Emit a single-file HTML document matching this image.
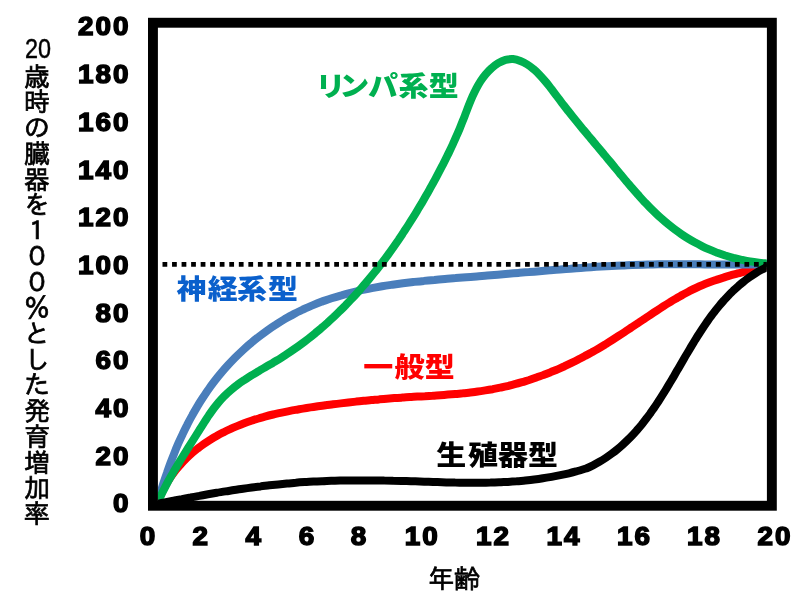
<!DOCTYPE html>
<html lang="ja"><head><meta charset="utf-8"><title>スキャモンの発育曲線</title>
<style>
html,body{margin:0;padding:0;background:#fff;}
body{width:800px;height:600px;overflow:hidden;}
svg{display:block;}
.tick{font-family:"Liberation Sans",sans-serif;font-weight:700;font-size:26px;fill:#000;stroke:#000;stroke-width:1.5px;stroke-linejoin:miter;letter-spacing:1.9px;}
.lab{font-family:"Liberation Sans","Noto Sans CJK JP",sans-serif;font-weight:900;}
.goth{font-family:"Liberation Sans","IPAGothic","Noto Sans CJK JP",sans-serif;fill:#000;stroke:#000;stroke-width:0.7px;}
.num{font-family:"Liberation Sans",sans-serif;fill:#000;stroke:#000;stroke-width:0.5px;}
</style></head><body>
<svg width="800" height="600" viewBox="0 0 800 600">
<rect x="0" y="0" width="800" height="600" fill="#fff"/>
<defs><clipPath id="plot"><rect x="157.8" y="27.7" width="609" height="473.4"/></clipPath></defs>
<g clip-path="url(#plot)" fill="none" stroke-linecap="butt" stroke-linejoin="round" stroke-width="8">
<path d="M157.5 503.0C158.0 501.8 159.3 498.1 160.4 495.7C161.4 493.3 162.5 491.0 163.7 488.7C164.9 486.5 166.1 484.2 167.4 482.1C168.8 479.9 170.1 477.8 171.6 475.7C173.1 473.6 174.6 471.6 176.1 469.6C177.7 467.7 179.4 465.7 181.1 463.9C182.7 462.0 184.5 460.2 186.3 458.4C188.1 456.7 189.9 455.0 191.8 453.3C193.7 451.7 195.7 450.1 197.7 448.5C199.7 447.0 201.7 445.5 203.8 444.0C205.8 442.6 207.9 441.2 210.1 439.8C212.2 438.5 214.4 437.2 216.6 436.0C218.8 434.7 221.0 433.5 223.3 432.4C225.5 431.2 227.8 430.1 230.1 429.1C232.4 428.0 234.8 427.0 237.1 426.1C239.5 425.1 241.8 424.2 244.2 423.3C246.6 422.4 248.9 421.6 251.3 420.8C253.7 420.0 256.1 419.2 258.6 418.5C261.0 417.7 263.4 417.1 265.8 416.4C268.3 415.7 270.7 415.1 273.1 414.5C275.6 413.9 278.0 413.4 280.5 412.8C283.0 412.3 285.4 411.8 287.9 411.3C290.4 410.8 292.9 410.3 295.4 409.9C297.9 409.5 300.4 409.0 302.9 408.6C305.4 408.2 307.9 407.8 310.4 407.4C312.9 407.1 315.4 406.7 317.9 406.3C320.5 406.0 323.0 405.7 325.5 405.3C328.1 405.0 330.6 404.6 333.1 404.3C335.7 404.0 338.2 403.7 340.8 403.4C343.3 403.1 345.8 402.8 348.4 402.5C350.9 402.2 353.5 401.9 356.1 401.6C358.6 401.4 361.2 401.1 363.7 400.8C366.3 400.6 368.8 400.3 371.4 400.1C373.9 399.9 376.5 399.6 379.1 399.4C381.6 399.2 384.2 399.0 386.7 398.7C389.3 398.5 391.9 398.3 394.4 398.1C397.0 398.0 399.5 397.8 402.1 397.6C404.6 397.4 407.2 397.3 409.7 397.1C412.3 396.9 414.8 396.8 417.4 396.6C419.9 396.5 422.5 396.3 425.0 396.2C427.5 396.0 430.1 395.8 432.6 395.7C435.1 395.5 437.7 395.4 440.2 395.2C442.7 395.0 445.3 394.8 447.8 394.6C450.3 394.4 452.8 394.2 455.3 394.0C457.8 393.8 460.4 393.5 462.9 393.3C465.4 393.0 467.9 392.8 470.4 392.5C472.9 392.2 475.4 391.9 477.8 391.5C480.3 391.2 482.8 390.8 485.3 390.4C487.8 390.0 490.2 389.6 492.7 389.2C495.2 388.7 497.6 388.2 500.1 387.7C502.5 387.2 505.0 386.7 507.4 386.1C509.8 385.5 512.3 384.9 514.7 384.2C517.1 383.6 519.6 382.9 522.0 382.2C524.4 381.5 526.8 380.7 529.2 380.0C531.6 379.2 534.0 378.4 536.4 377.5C538.7 376.7 541.1 375.8 543.5 375.0C545.8 374.1 548.2 373.1 550.6 372.2C552.9 371.2 555.3 370.3 557.6 369.3C559.9 368.3 562.2 367.2 564.6 366.2C566.9 365.1 569.2 364.0 571.5 362.9C573.8 361.8 576.1 360.7 578.3 359.5C580.6 358.3 582.9 357.2 585.1 355.9C587.4 354.7 589.6 353.5 591.9 352.3C594.1 351.0 596.3 349.7 598.6 348.4C600.8 347.1 603.0 345.8 605.2 344.5C607.4 343.1 609.6 341.8 611.7 340.4C613.9 339.0 616.1 337.6 618.2 336.2C620.4 334.8 622.6 333.4 624.7 332.0C626.9 330.6 629.0 329.1 631.1 327.7C633.3 326.3 635.4 324.8 637.6 323.4C639.7 322.0 641.8 320.5 644.0 319.1C646.1 317.7 648.2 316.2 650.4 314.8C652.5 313.4 654.7 312.0 656.8 310.6C658.9 309.2 661.1 307.8 663.2 306.4C665.4 305.0 667.5 303.7 669.7 302.4C671.8 301.0 674.0 299.7 676.2 298.5C678.3 297.2 680.5 296.0 682.7 294.7C684.9 293.5 687.1 292.4 689.3 291.2C691.5 290.1 693.7 289.0 695.9 288.0C698.2 286.9 700.4 285.9 702.7 285.0C704.9 284.1 707.2 283.2 709.5 282.3C711.8 281.4 714.1 280.6 716.4 279.9C718.7 279.1 721.0 278.3 723.4 277.6C725.7 276.8 728.1 276.1 730.5 275.4C732.9 274.7 735.3 274.1 737.7 273.4C740.1 272.7 742.6 272.1 745.1 271.4C747.5 270.7 750.0 270.0 752.6 269.3C755.1 268.6 757.6 268.0 760.2 267.2C762.8 266.5 766.7 265.4 768.0 265.0" stroke="#FF0000"/>
<path d="M157.5 503.0C158.0 501.3 159.4 496.3 160.4 493.0C161.4 489.6 162.5 486.3 163.5 483.0C164.6 479.6 165.7 476.3 166.9 473.0C168.0 469.7 169.2 466.4 170.4 463.1C171.6 459.9 172.9 456.6 174.2 453.4C175.5 450.1 176.8 446.9 178.2 443.7C179.6 440.5 181.1 437.3 182.6 434.2C184.0 431.0 185.6 427.9 187.2 424.8C188.7 421.7 190.4 418.6 192.1 415.6C193.7 412.6 195.5 409.6 197.3 406.6C199.0 403.6 200.9 400.7 202.8 397.8C204.7 394.9 206.6 392.0 208.6 389.2C210.6 386.3 212.7 383.5 214.8 380.8C217.0 378.0 219.2 375.3 221.4 372.7C223.6 370.0 225.9 367.4 228.3 364.8C230.6 362.3 233.1 359.8 235.5 357.3C238.0 354.8 240.5 352.4 243.0 350.1C245.6 347.7 248.2 345.4 250.9 343.2C253.5 340.9 256.2 338.7 259.0 336.6C261.7 334.5 264.5 332.4 267.3 330.4C270.1 328.4 273.0 326.4 275.9 324.6C278.8 322.7 281.7 320.9 284.7 319.1C287.7 317.4 290.7 315.7 293.7 314.1C296.8 312.5 299.9 311.0 303.0 309.5C306.1 308.1 309.2 306.7 312.4 305.4C315.5 304.1 318.7 302.8 321.9 301.6C325.1 300.5 328.4 299.3 331.6 298.3C334.9 297.2 338.2 296.2 341.5 295.3C344.8 294.3 348.1 293.4 351.5 292.6C354.8 291.8 358.2 291.0 361.6 290.2C364.9 289.5 368.4 288.8 371.8 288.1C375.2 287.5 378.6 286.9 382.1 286.3C385.5 285.7 389.0 285.2 392.4 284.7C395.9 284.2 399.4 283.7 402.9 283.2C406.3 282.8 409.8 282.4 413.3 282.0C416.9 281.6 420.4 281.2 423.9 280.9C427.4 280.5 430.9 280.2 434.4 279.9C438.0 279.5 441.5 279.2 445.0 278.9C448.5 278.6 452.1 278.4 455.6 278.1C459.1 277.8 462.6 277.5 466.2 277.2C469.7 277.0 473.2 276.7 476.7 276.4C480.2 276.1 483.7 275.9 487.2 275.6C490.7 275.3 494.2 275.0 497.7 274.7C501.2 274.4 504.7 274.1 508.2 273.8C511.7 273.5 515.1 273.2 518.6 272.9C522.1 272.6 525.5 272.3 529.0 272.1C532.5 271.8 535.9 271.5 539.4 271.2C542.8 270.9 546.3 270.6 549.7 270.3C553.2 270.0 556.6 269.7 560.1 269.5C563.5 269.2 567.0 268.9 570.4 268.7C573.8 268.4 577.3 268.1 580.7 267.9C584.1 267.7 587.6 267.4 591.0 267.2C594.4 267.0 597.9 266.7 601.3 266.5C604.7 266.3 608.2 266.1 611.6 265.9C615.0 265.8 618.5 265.6 621.9 265.4C625.4 265.3 628.8 265.1 632.2 265.0C635.7 264.9 639.1 264.8 642.5 264.7C646.0 264.6 649.4 264.5 652.9 264.4C656.3 264.4 659.8 264.3 663.2 264.3C666.7 264.3 670.1 264.3 673.6 264.2C677.0 264.2 680.5 264.2 683.9 264.3C687.4 264.3 690.9 264.3 694.3 264.3C697.8 264.3 701.3 264.4 704.8 264.4C708.2 264.4 711.7 264.5 715.2 264.5C718.7 264.5 722.2 264.5 725.7 264.6C729.2 264.6 732.7 264.6 736.2 264.6C739.7 264.6 743.2 264.6 746.8 264.6C750.3 264.6 753.8 264.6 757.4 264.6C760.9 264.5 766.2 264.4 768.0 264.4" stroke="#4A7EBB"/>
<path d="M157.5 503.0C158.1 501.7 159.9 497.8 161.1 495.3C162.3 492.7 163.6 490.2 164.9 487.7C166.2 485.2 167.5 482.7 168.8 480.2C170.2 477.8 171.6 475.3 173.0 472.9C174.3 470.5 175.8 468.1 177.2 465.7C178.6 463.3 180.1 460.9 181.5 458.5C183.0 456.1 184.5 453.7 186.0 451.3C187.5 448.9 189.0 446.6 190.5 444.2C192.0 441.8 193.5 439.4 195.0 437.0C196.5 434.6 198.0 432.2 199.5 429.8C201.1 427.4 202.6 425.0 204.1 422.6C205.7 420.2 207.2 417.8 208.8 415.4C210.4 413.1 212.0 410.8 213.7 408.5C215.4 406.3 217.2 404.1 219.0 401.9C220.8 399.8 222.7 397.8 224.6 395.8C226.6 393.8 228.6 392.0 230.7 390.2C232.8 388.4 235.0 386.6 237.2 385.0C239.4 383.3 241.7 381.7 244.1 380.2C246.4 378.6 248.8 377.1 251.1 375.6C253.5 374.1 256.0 372.7 258.4 371.3C260.8 369.8 263.3 368.4 265.7 367.0C268.2 365.5 270.7 364.1 273.1 362.7C275.5 361.2 278.0 359.8 280.4 358.3C282.8 356.8 285.2 355.2 287.5 353.7C289.9 352.1 292.2 350.5 294.5 348.9C296.9 347.3 299.2 345.7 301.4 344.0C303.7 342.3 305.9 340.6 308.2 338.9C310.4 337.2 312.6 335.4 314.8 333.6C316.9 331.8 319.1 330.0 321.2 328.2C323.4 326.4 325.5 324.5 327.6 322.6C329.6 320.7 331.7 318.8 333.8 316.9C335.8 315.0 337.8 313.0 339.8 311.0C341.9 309.1 343.8 307.1 345.8 305.1C347.8 303.0 349.7 301.0 351.6 298.9C353.6 296.9 355.5 294.8 357.4 292.7C359.2 290.6 361.1 288.5 362.9 286.3C364.8 284.2 366.6 282.1 368.4 279.9C370.2 277.7 372.0 275.5 373.8 273.3C375.6 271.1 377.3 268.9 379.0 266.7C380.8 264.4 382.5 262.2 384.2 259.9C385.9 257.6 387.6 255.4 389.2 253.1C390.9 250.8 392.5 248.5 394.1 246.2C395.8 243.8 397.4 241.5 399.0 239.2C400.5 236.8 402.1 234.5 403.7 232.1C405.2 229.8 406.8 227.4 408.3 225.0C409.8 222.6 411.3 220.3 412.8 217.9C414.3 215.5 415.8 213.1 417.2 210.7C418.7 208.2 420.1 205.8 421.6 203.4C423.0 201.0 424.4 198.5 425.8 196.1C427.2 193.7 428.6 191.2 429.9 188.8C431.3 186.4 432.6 183.9 434.0 181.5C435.3 179.0 436.6 176.6 437.9 174.1C439.2 171.6 440.5 169.2 441.8 166.7C443.1 164.2 444.4 161.8 445.6 159.3C446.8 156.8 448.1 154.3 449.3 151.7C450.5 149.2 451.7 146.7 452.9 144.1C454.0 141.6 455.2 139.0 456.3 136.4C457.5 133.8 458.6 131.2 459.7 128.6C460.8 125.9 461.8 123.3 462.9 120.6C464.0 117.9 465.0 115.2 466.1 112.4C467.1 109.7 468.1 107.0 469.2 104.3C470.3 101.6 471.4 98.9 472.6 96.2C473.8 93.6 475.0 91.0 476.4 88.4C477.7 85.9 479.1 83.4 480.6 81.1C482.2 78.7 483.8 76.4 485.6 74.3C487.4 72.2 489.4 70.1 491.5 68.2C493.6 66.4 495.9 64.6 498.2 63.2C500.6 61.8 503.1 60.6 505.5 59.9C508.0 59.2 510.6 59.0 513.1 59.1C515.6 59.3 518.1 60.1 520.4 61.0C522.8 61.9 525.1 63.1 527.3 64.5C529.6 65.9 531.7 67.6 533.8 69.3C535.9 71.1 537.9 73.1 539.9 75.2C541.9 77.3 543.9 79.6 545.8 81.9C547.7 84.1 549.5 86.5 551.4 88.9C553.2 91.3 555.0 93.8 556.8 96.1C558.6 98.5 560.4 100.9 562.2 103.3C564.0 105.6 565.7 107.9 567.5 110.1C569.3 112.4 571.0 114.6 572.8 116.8C574.6 119.0 576.3 121.1 578.1 123.3C579.8 125.4 581.6 127.6 583.3 129.7C585.1 131.8 586.9 133.9 588.6 136.0C590.4 138.1 592.1 140.2 593.9 142.3C595.7 144.4 597.4 146.5 599.2 148.6C601.0 150.7 602.8 152.8 604.5 155.0C606.3 157.1 608.1 159.3 609.9 161.4C611.7 163.6 613.5 165.8 615.3 168.0C617.2 170.2 619.0 172.4 620.8 174.7C622.7 176.9 624.5 179.1 626.4 181.3C628.3 183.5 630.1 185.7 632.0 187.9C633.9 190.1 635.8 192.3 637.8 194.5C639.7 196.6 641.6 198.8 643.6 200.9C645.6 203.0 647.5 205.1 649.5 207.1C651.5 209.1 653.6 211.1 655.6 213.1C657.6 215.1 659.7 217.0 661.8 218.8C663.9 220.7 666.0 222.5 668.1 224.2C670.3 226.0 672.4 227.7 674.6 229.3C676.8 230.9 679.0 232.5 681.3 234.1C683.5 235.6 685.8 237.1 688.1 238.5C690.4 239.9 692.7 241.3 695.1 242.6C697.5 243.9 699.9 245.1 702.3 246.3C704.7 247.5 707.2 248.6 709.7 249.7C712.2 250.8 714.8 251.8 717.3 252.8C719.9 253.7 722.5 254.6 725.2 255.5C727.8 256.3 730.5 257.1 733.2 257.8C736.0 258.5 738.7 259.2 741.5 259.8C744.4 260.4 747.2 261.0 750.1 261.4C753.0 261.9 755.9 262.3 758.9 262.7C761.9 263.1 766.5 263.4 768.0 263.6" stroke="#00B050"/>
<line x1="162.5" y1="264.35" x2="770" y2="264.35" stroke="#000" stroke-width="4.8" stroke-dasharray="4.77 4.77"/>
<path d="M156.0 504.2C157.4 503.9 161.7 503.0 164.6 502.5C167.5 501.9 170.4 501.3 173.3 500.8C176.2 500.2 179.0 499.6 181.9 499.1C184.8 498.5 187.7 498.0 190.6 497.5C193.5 496.9 196.4 496.4 199.3 495.9C202.2 495.3 205.1 494.8 208.0 494.3C210.9 493.8 213.8 493.3 216.7 492.8C219.7 492.3 222.6 491.9 225.5 491.4C228.4 490.9 231.3 490.5 234.2 490.0C237.2 489.6 240.1 489.1 243.0 488.7C245.9 488.3 248.9 487.9 251.8 487.5C254.7 487.1 257.6 486.7 260.6 486.4C263.5 486.0 266.4 485.7 269.4 485.3C272.3 485.0 275.2 484.7 278.2 484.4C281.1 484.1 284.1 483.8 287.0 483.5C289.9 483.3 292.9 483.0 295.8 482.8C298.8 482.5 301.7 482.3 304.7 482.1C307.6 481.9 310.5 481.8 313.5 481.6C316.4 481.4 319.4 481.3 322.3 481.2C325.3 481.1 328.2 480.9 331.2 480.8C334.1 480.8 337.1 480.7 340.0 480.6C343.0 480.5 345.9 480.5 348.9 480.5C351.9 480.4 354.8 480.4 357.8 480.4C360.7 480.4 363.7 480.4 366.6 480.4C369.6 480.4 372.5 480.4 375.5 480.4C378.4 480.5 381.4 480.5 384.3 480.6C387.3 480.6 390.2 480.7 393.2 480.8C396.2 480.8 399.1 480.9 402.1 481.0C405.0 481.1 408.0 481.1 410.9 481.2C413.9 481.3 416.8 481.4 419.8 481.5C422.7 481.6 425.7 481.7 428.6 481.8C431.6 481.9 434.5 482.0 437.5 482.1C440.4 482.2 443.3 482.3 446.3 482.4C449.2 482.4 452.2 482.5 455.1 482.6C458.1 482.6 461.0 482.7 463.9 482.7C466.9 482.7 469.8 482.8 472.8 482.8C475.7 482.8 478.6 482.8 481.6 482.7C484.5 482.7 487.4 482.6 490.4 482.6C493.3 482.5 496.2 482.4 499.1 482.3C502.1 482.2 505.0 482.0 507.9 481.9C510.8 481.7 513.8 481.5 516.7 481.3C519.6 481.0 522.5 480.8 525.4 480.5C528.4 480.2 531.3 479.9 534.2 479.5C537.1 479.2 540.0 478.8 542.9 478.3C545.8 477.9 548.7 477.4 551.6 476.9C554.5 476.4 557.4 475.8 560.3 475.2C563.2 474.6 566.1 474.0 569.0 473.3C571.9 472.6 574.7 471.8 577.6 471.0C580.5 470.2 584.8 468.9 586.3 468.5L586.2 468.5C587.4 468.0 590.8 466.4 593.0 465.3C595.2 464.2 597.3 463.0 599.4 461.8C601.5 460.6 603.6 459.3 605.6 458.0C607.6 456.7 609.5 455.3 611.4 453.9C613.3 452.5 615.2 451.1 617.0 449.6C618.8 448.1 620.6 446.6 622.4 445.0C624.1 443.5 625.8 441.9 627.5 440.2C629.1 438.6 630.8 436.9 632.4 435.2C634.0 433.5 635.5 431.8 637.1 430.0C638.6 428.3 640.1 426.5 641.6 424.7C643.1 422.8 644.5 421.0 645.9 419.1C647.4 417.3 648.8 415.4 650.2 413.5C651.5 411.5 652.9 409.6 654.2 407.7C655.6 405.7 656.9 403.7 658.2 401.8C659.5 399.8 660.8 397.8 662.0 395.8C663.3 393.7 664.6 391.7 665.8 389.7C667.1 387.6 668.3 385.6 669.5 383.5C670.7 381.5 672.0 379.4 673.2 377.4C674.4 375.3 675.6 373.2 676.8 371.1C678.0 369.1 679.2 367.0 680.4 364.9C681.6 362.9 682.8 360.8 684.0 358.7C685.2 356.6 686.4 354.6 687.7 352.5C688.9 350.5 690.1 348.4 691.3 346.4C692.5 344.3 693.8 342.3 695.0 340.3C696.3 338.2 697.5 336.2 698.8 334.2C700.1 332.2 701.4 330.3 702.7 328.3C704.0 326.3 705.3 324.4 706.6 322.5C708.0 320.5 709.3 318.6 710.7 316.7C712.1 314.9 713.5 313.0 714.9 311.2C716.3 309.3 717.8 307.5 719.3 305.7C720.8 303.9 722.3 302.2 723.8 300.5C725.3 298.7 726.9 297.1 728.5 295.4C730.1 293.7 731.8 292.1 733.4 290.5C735.1 288.9 736.8 287.4 738.5 285.9C740.3 284.4 742.1 282.9 743.9 281.5C745.7 280.0 747.6 278.6 749.5 277.3C751.4 276.0 753.4 274.7 755.4 273.4C757.4 272.1 759.4 270.9 761.5 269.8C763.6 268.6 766.9 267.0 768.0 266.5" stroke="#000"/>
</g>
<rect x="152.95" y="22.75" width="618.9" height="483" fill="none" stroke="#000" stroke-width="9.9"/>
<text class="tick" transform="translate(130.5,35.4) scale(1.07,1)" text-anchor="end">200</text>
<text class="tick" transform="translate(130.5,83.1) scale(1.07,1)" text-anchor="end">180</text>
<text class="tick" transform="translate(130.5,130.8) scale(1.07,1)" text-anchor="end">160</text>
<text class="tick" transform="translate(130.5,178.5) scale(1.07,1)" text-anchor="end">140</text>
<text class="tick" transform="translate(130.5,226.2) scale(1.07,1)" text-anchor="end">120</text>
<text class="tick" transform="translate(130.5,273.9) scale(1.07,1)" text-anchor="end">100</text>
<text class="tick" transform="translate(130.5,321.6) scale(1.07,1)" text-anchor="end">80</text>
<text class="tick" transform="translate(130.5,369.3) scale(1.07,1)" text-anchor="end">60</text>
<text class="tick" transform="translate(130.5,417.0) scale(1.07,1)" text-anchor="end">40</text>
<text class="tick" transform="translate(130.5,464.7) scale(1.07,1)" text-anchor="end">20</text>
<text class="tick" transform="translate(130.5,512.4) scale(1.07,1)" text-anchor="end">0</text>
<text class="tick" transform="translate(148.5,545.0) scale(1.07,1)" text-anchor="middle">0</text>
<text class="tick" transform="translate(201.3,545.0) scale(1.07,1)" text-anchor="middle">2</text>
<text class="tick" transform="translate(254.3,545.0) scale(1.07,1)" text-anchor="middle">4</text>
<text class="tick" transform="translate(307.4,545.0) scale(1.07,1)" text-anchor="middle">6</text>
<text class="tick" transform="translate(359.6,545.0) scale(1.07,1)" text-anchor="middle">8</text>
<text class="tick" transform="translate(422.2,545.0) scale(1.07,1)" text-anchor="middle">10</text>
<text class="tick" transform="translate(493.5,545.0) scale(1.07,1)" text-anchor="middle">12</text>
<text class="tick" transform="translate(564.0,545.0) scale(1.07,1)" text-anchor="middle">14</text>
<text class="tick" transform="translate(634.5,545.0) scale(1.07,1)" text-anchor="middle">16</text>
<text class="tick" transform="translate(704.5,545.0) scale(1.07,1)" text-anchor="middle">18</text>
<text class="tick" transform="translate(775.0,545.0) scale(1.07,1)" text-anchor="middle">20</text>
<text class="lab" font-size="30" fill="#00B050" transform="translate(0,95.8) scale(1,0.907)" x="315.45 339.35 367.95 398.45 428.8" y="0">リンパ系型</text>
<text class="lab" font-size="30" fill="#0A60CC" transform="translate(0,298.8) scale(1,0.913)" x="176.6 207.75 237.1 268" y="0">神経系型</text>
<text class="lab" font-size="30" fill="#FF0000" transform="translate(0,377.1) scale(1,0.92)" x="363.25 394.5 424.75" y="0">一般型</text>
<text class="lab" font-size="30" fill="#000" transform="translate(0,464.8) scale(1,0.893)" x="436.2 468.1 498 528" y="0">生殖器型</text>
<text class="goth" font-size="26" x="428" y="588">年齢</text>
<text class="goth" font-size="26" text-anchor="middle"><tspan class="num" font-size="28" text-anchor="start" x="25" y="58.3" textLength="26" lengthAdjust="spacingAndGlyphs">20</tspan><tspan x="37 37 37 37 37 37 37 37 37 37 37 37 37 37 37 37 37 37" y="85.5 111.3 137.0 162.8 188.5 214.2 240.0 265.7 291.5 317.2 342.9 368.7 394.4 420.2 445.9 471.6 497.4 523.1">歳時の臓器を１００％とした発育増加率</tspan></text>
</svg>
</body></html>
